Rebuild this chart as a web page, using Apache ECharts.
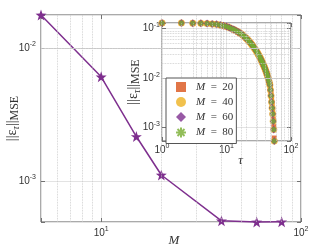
<!DOCTYPE html>
<html><head><meta charset="utf-8">
<script src="https://cdn.jsdelivr.net/npm/echarts@6/dist/echarts.min.js"></script>
<style>html,body{margin:0;padding:0;background:#fff}#c{width:324px;height:248px}</style>
</head><body><div id="c"></div>
<script>
// Main plot data
const mValues = [5, 10, 15, 20, 40, 60, 80];
const mseMain = [0.0177, 0.00607, 0.00216, 0.00111, 0.000502, 0.000492, 0.000494];

// Inset data
const tau = [1,2,3,4,5,6,7,8,9,10,11,12,13,14,15,16,17,18,19,20,21,22,23,24,25,26,27,28,29,30,31,32,33,34,35,36,37,38,39,40,41,42,43,44,45,46,47,48,49,50,51,52,53,54,55];
const mse20 = [0.130,0.1295,0.129,0.128,0.1265,0.1245,0.122,0.118,0.114,0.110,0.105,0.100,0.096,0.091,0.0865,0.082,0.078,0.0735,0.069,0.065,0.061,0.057,0.0535,0.050,0.0468,0.0438,0.0408,0.038,0.0354,0.0329,0.0306,0.0284,0.0263,0.0243,0.0225,0.0208,0.0192,0.0177,0.0163,0.0150,0.0137,0.0125,0.0114,0.0104,0.0094,0.0085,0.0075,0.0062,0.0048,0.0037,0.0028,0.0021,0.0015,0.00105,0.00062];
const mse40 = [0.130,0.1295,0.129,0.128,0.1265,0.1245,0.122,0.118,0.114,0.110,0.105,0.100,0.096,0.091,0.0865,0.082,0.078,0.0735,0.069,0.065,0.061,0.057,0.0535,0.050,0.0468,0.0438,0.0408,0.038,0.0354,0.0329,0.0306,0.0284,0.0263,0.0243,0.0225,0.0208,0.0192,0.0177,0.0163,0.0150,0.0137,0.0125,0.0114,0.0103,0.0093,0.0083,0.0073,0.0058,0.0044,0.0033,0.0025,0.0019,0.00135,0.00092,0.00054];
const mse60 = [0.130,0.1295,0.129,0.128,0.1265,0.1245,0.122,0.118,0.114,0.110,0.105,0.100,0.096,0.091,0.0865,0.082,0.078,0.0735,0.069,0.065,0.061,0.057,0.0535,0.050,0.0468,0.0438,0.0408,0.038,0.0354,0.0329,0.0306,0.0284,0.0263,0.0243,0.0225,0.0208,0.0192,0.0177,0.0163,0.0150,0.0137,0.0125,0.0114,0.0103,0.0093,0.0083,0.0073,0.0058,0.0044,0.0033,0.0025,0.0019,0.00135,0.00092,0.00054];
const mse80 = [0.130,0.1295,0.129,0.128,0.1265,0.1245,0.122,0.118,0.114,0.110,0.105,0.100,0.096,0.091,0.0865,0.082,0.078,0.0735,0.069,0.065,0.061,0.057,0.0535,0.050,0.0468,0.0438,0.0408,0.038,0.0354,0.0329,0.0306,0.0284,0.0263,0.0243,0.0225,0.0208,0.0192,0.0177,0.0163,0.0150,0.0137,0.0125,0.0114,0.0103,0.0093,0.0083,0.0073,0.0058,0.0044,0.0033,0.0025,0.0019,0.00135,0.00092,0.00054];
const legendNames = ['M = 20', 'M = 40', 'M = 60', 'M = 80'];

// Minor grid positions
const mainXMinor = [6,7,8,9,20,30,40,50,60,70,80,90];
const mainYMinor = [5e-4,6e-4,7e-4,8e-4,9e-4,2e-3,3e-3,4e-3,5e-3,6e-3,7e-3,8e-3,9e-3];
const insetXMinor = [2,3,4,5,6,7,8,9,20,30,40,50,60,70,80,90];
const insetYMinor = [6e-4,7e-4,8e-4,9e-4,2e-3,3e-3,4e-3,5e-3,6e-3,7e-3,8e-3,9e-3,2e-2,3e-2,4e-2,5e-2,6e-2,7e-2,8e-2,9e-2];

const zip = (a, b) => a.map((v, i) => [v, b[i]]);
const TXT = '#333';
const AX = '#555';
function supLabel(v) {
  const l = Math.log10(v); const e = Math.round(l);
  if (Math.abs(l - e) > 1e-6) return '';
  return '{b|10}{s|' + e + '}';
}
const labelRich = {
  b: {fontSize: 10, lineHeight: 14, fontFamily: 'Liberation Sans', color: TXT},
  s: {fontSize: 7, lineHeight: 7, verticalAlign: 'top', fontFamily: 'Liberation Sans', color: TXT}
};
const nameRich = {
  a: {fontSize: 14, fontFamily: 'Liberation Serif', color: TXT, lineHeight: 17},
  t: {fontSize: 10, fontFamily: 'Liberation Serif', fontStyle: 'italic', color: TXT, lineHeight: 10, verticalAlign: 'bottom'},
  m: {fontSize: 12, fontFamily: 'Liberation Serif', color: TXT, lineHeight: 12, verticalAlign: 'bottom'}
};
const yName = '{a|||ε}{t|τ}{a|||}{m|MSE}';

function logAxis(opt) {
  return Object.assign({
    type: 'log', logBase: 10,
    nameMoveOverlap: false,
    axisLine: {show: false},
    axisTick: {show: true, inside: true, length: 4, lineStyle: {color: AX, width: 0.8}},
    axisLabel: {show: true, formatter: supLabel, rich: labelRich, margin: 4},
    splitLine: {show: true, lineStyle: {color: '#e3e3e3', width: 1}},
    minorTick: {show: false}
  }, opt);
}
const star = 'path://M0,-10L2.35,-3.24L9.51,-3.09L3.8,1.24L5.88,8.09L0,4L-5.88,8.09L-3.8,1.24L-9.51,-3.09L-2.35,-3.24Z';
const asterisk = 'path://M0,-5L0,5M-5,0L5,0M-3.5,-3.5L3.5,3.5M-3.5,3.5L3.5,-3.5';
const minorStyle = {type: 'dotted', color: '#c8c8c8', width: 0.8};

const chart = echarts.init(document.getElementById('c'), null, {renderer: 'canvas'});
chart.setOption({
  animation: false,
  backgroundColor: '#fff',
  grid: [
    {left: 41, right: 23, top: 15, bottom: 26, show: true, borderColor: AX, borderWidth: 1, backgroundColor: 'transparent', outerBoundsMode: 'none', containLabel: false},
    {left: 162, right: 33, top: 23, bottom: 107, show: true, borderColor: AX, borderWidth: 1, backgroundColor: '#fff', z: 3, outerBoundsMode: 'none', containLabel: false}
  ],
  xAxis: [
    logAxis({gridIndex: 0, min: 5, max: 100, name: 'M', nameLocation: 'middle', nameGap: 12,
      nameTextStyle: {fontFamily: 'Liberation Serif', fontStyle: 'italic', fontSize: 13, color: TXT, padding: [0, 0, 0, 6]}}),
    logAxis({gridIndex: 0, min: 5, max: 100, position: 'top', axisLabel: {show: false}, splitLine: {show: false}}),
    logAxis({gridIndex: 1, min: 1, max: 100, z: 3, axisLabel: {show: true, formatter: supLabel, rich: labelRich, margin: 2},
      name: 'τ', nameLocation: 'middle', nameGap: 13,
      nameTextStyle: {fontFamily: 'Liberation Serif', fontStyle: 'italic', fontSize: 13, color: TXT, padding: [0, 0, 0, 28]}}),
    logAxis({gridIndex: 1, min: 1, max: 100, z: 3, position: 'top', axisLabel: {show: false}, splitLine: {show: false}})
  ],
  yAxis: [
    logAxis({gridIndex: 0, min: 0.000492, max: 0.0177, name: yName, nameLocation: 'middle', nameGap: 20,
      nameTextStyle: {rich: nameRich}, axisLabel: {show: true, formatter: supLabel, rich: labelRich, margin: 5}}),
    logAxis({gridIndex: 0, min: 0.000492, max: 0.0177, position: 'right', axisLabel: {show: false}, splitLine: {show: false}}),
    logAxis({gridIndex: 1, min: 0.00054, max: 0.13, z: 3, name: yName, nameLocation: 'middle', nameGap: 20,
      nameTextStyle: {rich: nameRich}, axisLabel: {show: true, formatter: supLabel, rich: labelRich, margin: 2}}),
    logAxis({gridIndex: 1, min: 0.00054, max: 0.13, z: 3, position: 'right', axisLabel: {show: false}, splitLine: {show: false}})
  ],
  legend: {
    orient: 'vertical', left: 166, top: 78, z: 6,
    data: legendNames,
    itemWidth: 10, itemHeight: 10, itemGap: 4,
    padding: [3.5, 3, 5, 9],
    backgroundColor: '#fff', borderColor: AX, borderWidth: 1, borderRadius: 0,
    formatter: function (name) { return '{i|M}{t|\u2002=\u2002' + name.split('= ')[1] + '}'; },
    textStyle: {rich: {
      i: {fontFamily: 'Liberation Serif', fontStyle: 'italic', fontSize: 11, color: TXT, padding: [0, 0, 0, 5]},
      t: {fontFamily: 'Liberation Serif', fontSize: 11, color: TXT}
    }}
  },
  series: [
    {type: 'line', xAxisIndex: 0, yAxisIndex: 0, data: zip(mValues, mseMain), symbol: 'none', lineStyle: {opacity: 0}, z: 1, silent: true,
      markLine: {silent: true, symbol: 'none', label: {show: false}, lineStyle: minorStyle, animation: false,
        data: mainXMinor.map(v => ({xAxis: v})).concat(mainYMinor.map(v => ({yAxis: v})))}},
    {type: 'line', name: 'main', xAxisIndex: 0, yAxisIndex: 0, data: zip(mValues, mseMain), z: 2,
      lineStyle: {color: '#7E2F8E', width: 1.5}, itemStyle: {color: '#7E2F8E'}, symbol: star, symbolSize: 11, showAllSymbol: true, clip: false},
    {type: 'line', xAxisIndex: 2, yAxisIndex: 2, data: zip(tau, mse40), symbol: 'none', lineStyle: {opacity: 0}, z: 3, silent: true,
      markLine: {silent: true, symbol: 'none', label: {show: false}, lineStyle: minorStyle, animation: false,
        data: insetXMinor.map(v => ({xAxis: v})).concat(insetYMinor.map(v => ({yAxis: v})))}},
    {type: 'scatter', name: legendNames[0], xAxisIndex: 2, yAxisIndex: 2, data: zip(tau, mse20), z: 4, clip: false,
      symbol: 'rect', symbolSize: 5, itemStyle: {color: '#D95319'}},
    {type: 'scatter', name: legendNames[1], xAxisIndex: 2, yAxisIndex: 2, data: zip(tau, mse40), z: 4, clip: false,
      symbol: 'circle', symbolSize: 7, itemStyle: {color: '#EDB120'}},
    {type: 'scatter', name: legendNames[2], xAxisIndex: 2, yAxisIndex: 2, data: zip(tau, mse60), z: 4, clip: false,
      symbol: 'diamond', symbolSize: [6.5, 8], itemStyle: {color: '#7E2F8E'}},
    {type: 'scatter', name: legendNames[3], xAxisIndex: 2, yAxisIndex: 2, data: zip(tau, mse80), z: 4, clip: false,
      symbol: asterisk, symbolSize: 5, itemStyle: {color: 'rgba(0,0,0,0)', borderColor: '#77AC30', borderWidth: 1.8}}
  ]
});
</script></body></html>
